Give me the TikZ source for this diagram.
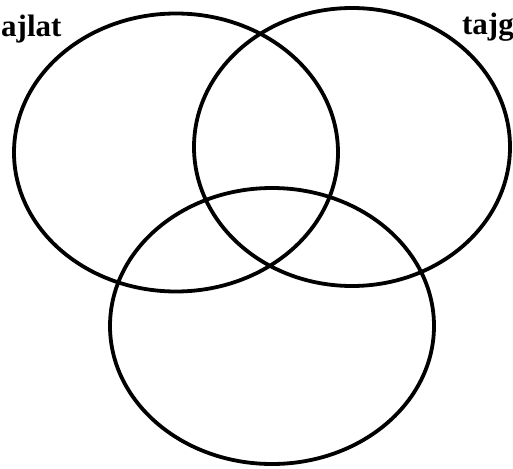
\documentclass[tikz,border=0pt]{standalone}
\usepackage{fontspec}
\setmainfont{Liberation Serif}

\begin{document}
\begin{tikzpicture}[x=1pt,y=-1pt,
    ring/.style={line width=3.8pt},
    setname/.style={font=\fontsize{31}{31}\selectfont\bfseries, inner sep=0pt}]
            \useasboundingbox (0,0) rectangle (513,468);
            \draw[ring] (176,152.5) ellipse (162pt and 139pt);
            \draw[ring] (352,147) ellipse (158pt and 139pt);
            \draw[ring] (272,326) ellipse (162pt and 138pt);
            \node[setname, anchor=base west] (ajlat) at (1,37) {ajlat};
            \node[setname, anchor=base east] (tajg) at (514,35) {tajg};
        \end{tikzpicture}
\end{document}
